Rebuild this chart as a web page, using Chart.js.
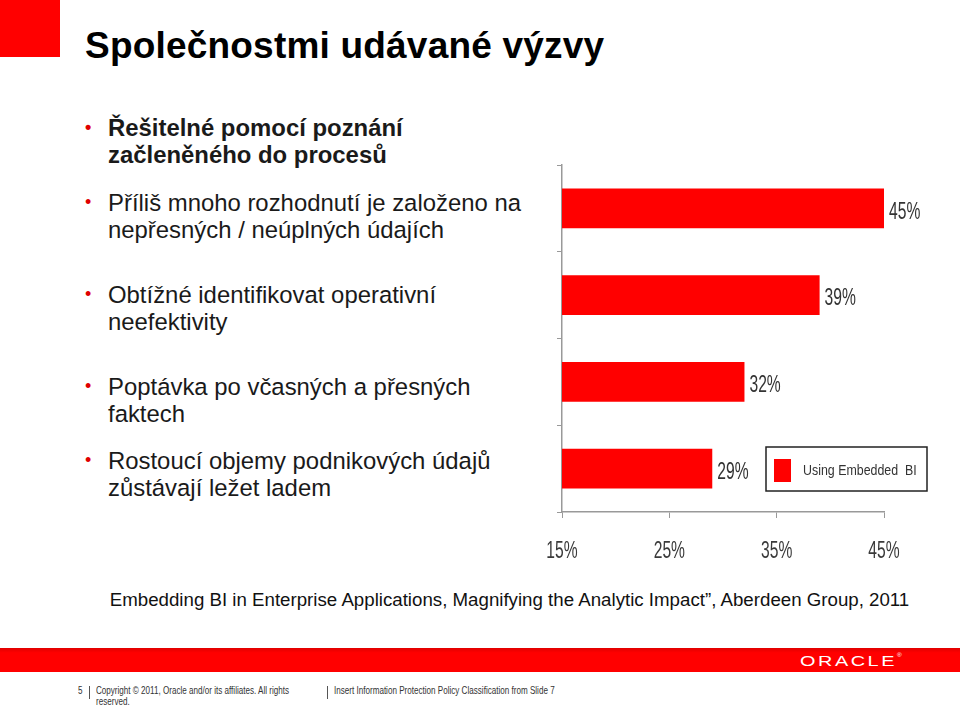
<!DOCTYPE html>
<html>
<head>
<meta charset="utf-8">
<script src="https://cdn.jsdelivr.net/npm/chart.js@4"></script>
<style>
  body { margin: 0; width: 960px; height: 707px; background: #fff; position: relative; overflow: hidden; font-family: 'Liberation Sans', Arial, sans-serif; }
  .corner { position: absolute; left: 0; top: 0; width: 60px; height: 57px; background: #ff0000; }
  h1 { position: absolute; left: 85px; top: 25px; margin: 0; font-size: 37px; font-weight: bold; color: #000; letter-spacing: 0.2px; }
  ul { position: absolute; left: 88px; top: 114px; margin: 0; padding: 0; list-style: none; }
  li { position: absolute; left: 0; font-size: 23.9px; line-height: 27px; color: #1a1a1a; padding-left: 20px; white-space: nowrap; }
  li::before { content: '•'; color: #e00000; position: absolute; left: -3px; top: 0; font-size: 18px; }
  .cite { position: absolute; left: 0; width: 1019px; top: 589px; text-align: center; font-size: 18.7px; color: #111; white-space: nowrap; }
  .band { position: absolute; left: 0; top: 648px; width: 960px; height: 24px; background: linear-gradient(#e00000, #ff0000 20%, #ff0000); }
  .logo { position: absolute; left: 800px; top: 652px; color: #fff; font-size: 15.5px; letter-spacing: 2px; transform: scaleX(1.28); transform-origin: left top; }
  .foot { position: absolute; font-size: 10.5px; color: #333; line-height: 11px; transform: scaleX(0.77); transform-origin: left top; white-space: nowrap; }
  .sep { position: absolute; width: 1px; height: 13px; background: #555; top: 686px; }
  #wrap { position: absolute; left: 540px; top: 150px; width: 420px; height: 420px; }
</style>
</head>
<body>
<div class="corner"></div>
<h1>Společnostmi udávané výzvy</h1>
<ul>
  <li style="top:0; font-weight:bold">Řešitelné pomocí poznání<br>začleněného do procesů</li>
  <li style="top:75px">Příliš mnoho rozhodnutí je založeno na<br>nepřesných / neúplných údajích</li>
  <li style="top:167px">Obtížné identifikovat operativní<br>neefektivity</li>
  <li style="top:259px">Poptávka po včasných a přesných<br>faktech</li>
  <li style="top:333px">Rostoucí objemy podnikových údajů<br>zůstávají ležet ladem</li>
</ul>
<div id="wrap"><canvas id="chart" width="420" height="420"></canvas></div>
<div class="cite">Embedding BI in Enterprise Applications, Magnifying the Analytic Impact”, Aberdeen Group, 2011</div>
<div class="band"></div>
<div class="logo">ORACLE<span style="font-size:5px;vertical-align:top">®</span></div>
<div class="foot" style="left:78px; top:685px">5</div>
<div class="sep" style="left:89px"></div>
<div class="foot" style="left:96px; top:685px">Copyright © 2011, Oracle and/or its affiliates. All rights<br>reserved.</div>
<div class="sep" style="left:327px"></div>
<div class="foot" style="left:334px; top:685px">Insert Information Protection Policy Classification from Slide 7</div>
<script>
const categories = ['A', 'B', 'C', 'D'];
const values = [45, 39, 32, 29];
const seriesName = 'Using Embedded  BI';
const tickValues = [15, 25, 35, 45];

// narrow text, like Arial Narrow in the original
function narrowText(ctx, text, x, y, squeeze) {
    ctx.save();
    ctx.translate(x, y);
    ctx.scale(squeeze, 1);
    ctx.fillText(text, 0, 0);
    ctx.restore();
}

// value labels at the bar ends + x tick labels
const valueLabels = {
    id: 'valueLabels',
    afterDatasetsDraw(chart) {
        const ctx = chart.ctx;
        const meta = chart.getDatasetMeta(0);
        ctx.save();
        ctx.font = '23px "Liberation Sans", Arial, sans-serif';
        ctx.fillStyle = '#333';
        ctx.textBaseline = 'middle';
        ctx.textAlign = 'left';
        meta.data.forEach((bar, i) => {
            narrowText(ctx, values[i] + '%', bar.x + 5, bar.y + 4, 0.68);
        });
        const xScale = chart.scales.x;
        ctx.textAlign = 'center';
        ctx.fillStyle = '#3a3a3a';
        tickValues.forEach(v => {
            narrowText(ctx, v + '%', xScale.getPixelForValue(v), xScale.bottom + 34, 0.68);
        });
        ctx.restore();
    }
};

// legend box inside the plot, bottom right
const boxLegend = {
    id: 'boxLegend',
    afterDraw(chart) {
        const ctx = chart.ctx;
        const x = 226, y = 297, w = 161, h = 44;
        ctx.save();
        ctx.fillStyle = '#fff';
        ctx.fillRect(x, y, w, h);
        ctx.strokeStyle = '#222';
        ctx.lineWidth = 1.5;
        ctx.strokeRect(x, y, w, h);
        ctx.fillStyle = '#ff0000';
        ctx.fillRect(x + 8, y + 12, 17, 23);
        ctx.fillStyle = '#333';
        ctx.font = '15.5px "Liberation Sans", Arial, sans-serif';
        ctx.textBaseline = 'middle';
        narrowText(ctx, seriesName, x + 37, y + 24, 0.8);
        ctx.restore();
    }
};

new Chart(document.getElementById('chart'), {
    type: 'bar',
    data: {
        labels: categories,
        datasets: [{
            label: seriesName,
            data: values,
            backgroundColor: '#ff0000',
            borderWidth: 0,
            categoryPercentage: 1,
            barPercentage: 0.46
        }]
    },
    options: {
        indexAxis: 'y',
        responsive: false,
        animation: false,
        layout: { padding: { left: 17, right: 76, top: 15, bottom: 52 } },
        plugins: {
            legend: { display: false },
            tooltip: { enabled: false }
        },
        scales: {
            x: {
                min: 15,
                max: 45,
                afterBuildTicks(axis) {
                    axis.ticks = tickValues.map(v => ({ value: v }));
                },
                grid: { drawOnChartArea: false, tickLength: 6, color: '#999' },
                border: { color: '#999', width: 1.5 },
                ticks: { display: false }
            },
            y: {
                grid: { drawOnChartArea: false, tickLength: 5, color: '#999', offset: true },
                border: { color: '#999', width: 1.5 },
                ticks: { display: false }
            }
        }
    },
    plugins: [valueLabels, boxLegend]
});
</script>
</body>
</html>
